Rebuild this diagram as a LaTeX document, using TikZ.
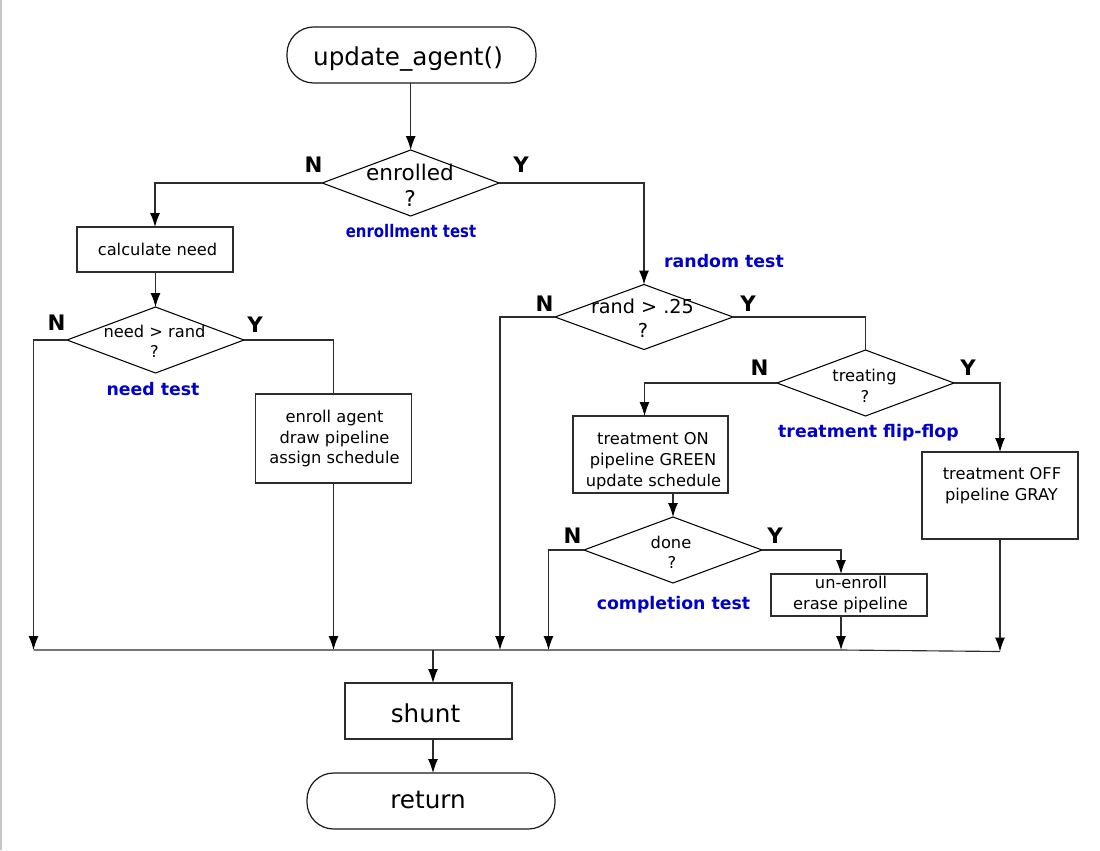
\documentclass[tikz,border=0pt]{standalone}
\usepackage{fontspec}
\usepackage{graphicx}
\setmainfont{DejaVu Sans}
\usetikzlibrary{arrows.meta,shapes.geometric,calc}
\definecolor{lblue}{RGB}{0,0,204}
\definecolor{lgray}{RGB}{45,45,45}
\newcommand{\pxu}{0.75pt}
\begin{document}
\begin{tikzpicture}[x=0.75pt,y=-0.75pt,
  conn/.style={draw=lgray, line width=0.85pt},
  arr/.style={conn, -{Latex[length=10.5pt,width=7.5pt,color=black]}},
  box/.style={draw=lgray, line width=0.9pt, rectangle, inner sep=0pt, outer sep=0pt},
  term/.style={box, draw=black!90, rounded corners=20pt},
  dia/.style={draw=black, line width=0.8pt, diamond, inner sep=0pt, outer sep=0pt},
  txt/.style={anchor=base, inner sep=0pt, font=\fontsize{12.2}{14}\selectfont},
  mid/.style={anchor=base, inner sep=0pt, font=\fontsize{14.4}{17}\selectfont},
  lrg/.style={anchor=base, inner sep=0pt, font=\fontsize{16.2}{19}\selectfont},
  big/.style={anchor=base, inner sep=0pt, font=\fontsize{18.5}{22}\selectfont},
  yn/.style={anchor=base, inner sep=0pt, font=\bfseries\fontsize{16}{19}\selectfont},
  lab/.style={anchor=base, inner sep=0pt, text=lblue, font=\bfseries\fontsize{13}{15}\selectfont}
]
\useasboundingbox (0,0) rectangle (1100,850);
\draw[gray!45, line width=1.5pt] (0.9,0) -- (0.9,850);

% ---- nodes: shapes
\node[term, minimum width=249*\pxu, minimum height=56*\pxu] (start) at (411.5,55) {};
\node[dia, minimum width=177*\pxu, minimum height=66*\pxu] (enr) at (410.7,183) {};
\node[box, minimum width=156*\pxu, minimum height=45*\pxu] (calc) at (155,249.5) {};
\node[dia, minimum width=177*\pxu, minimum height=66*\pxu] (need) at (155.5,340) {};
\node[box, minimum width=156*\pxu, minimum height=89*\pxu] (enroll) at (333.5,438.5) {};
\node[dia, minimum width=178*\pxu, minimum height=65*\pxu] (rand) at (644,317) {};
\node[dia, minimum width=177*\pxu, minimum height=66*\pxu] (treat) at (865.5,383) {};
\node[box, minimum width=155*\pxu, minimum height=77*\pxu] (on) at (650.5,454.5) {};
\node[dia, minimum width=178*\pxu, minimum height=66*\pxu] (done) at (673,550) {};
\node[box, minimum width=156*\pxu, minimum height=42*\pxu] (unenr) at (849,595) {};
\node[box, minimum width=156*\pxu, minimum height=87*\pxu] (off) at (1000,495.5) {};
\node[box, minimum width=167*\pxu, minimum height=56*\pxu] (shunt) at (428.5,711) {};
\node[term, minimum width=248*\pxu, minimum height=56*\pxu] (ret) at (431,801) {};

% ---- bus coordinates
\coordinate (b1) at (33.5,650);
\coordinate (b2) at (333.5,650);
\coordinate (b3) at (500,650);
\coordinate (b4) at (548.5,650);
\coordinate (b5) at (841,650);
\coordinate (b6) at (1000,651.5);
\coordinate (bm) at (433,650);

% ---- texts
\node[big] (tstart) at (408,65) {update\_agent()};
\node[lrg] (tenr1) at (410,180.7) {enrolled};
\node[lrg] (tenr2) at (410,206.7) {?};
\node[lab] (lenr) at (411,237) {\scalebox{0.86}[1]{enrollment test}};
\node[txt] (tcalc) at (157.5,255) {calculate need};
\node[txt] (tneed1) at (154.5,337) {need > rand};
\node[txt] (tneed2) at (154.5,357) {?};
\node[lab] (lneed) at (153,395) {need test};
\node[txt] (ten1) at (334.5,422) {enroll agent};
\node[txt] (ten2) at (334.5,443) {draw pipeline};
\node[txt] (ten3) at (334.5,463) {assign schedule};
\node[lab] (lrand) at (724,267) {random test};
\node[mid] (trand1) at (642.5,313) {rand > .25};
\node[mid] (trand2) at (643,337) {?};
\node[txt] (ttr1) at (864.5,381) {treating};
\node[txt] (ttr2) at (865,402) {?};
\node[lab] (ltr) at (868.5,437) {treatment flip-flop};
\node[txt] (ton1) at (653,444) {treatment ON};
\node[txt] (ton2) at (653,465) {pipeline GREEN};
\node[txt] (ton3) at (653.5,486) {update schedule};
\node[txt] (tdone1) at (671,548) {done};
\node[txt] (tdone2) at (672,568) {?};
\node[lab] (ldone) at (673.5,609) {completion test};
\node[txt] (tun1) at (851,588) {un-enroll};
\node[txt] (tun2) at (850.5,609) {erase pipeline};
\node[txt] (toff1) at (1002,479) {treatment OFF};
\node[txt] (toff2) at (1001.5,500) {pipeline GRAY};
\node[big] (tshunt) at (425.5,722) {shunt};
\node[big] (tret) at (428,808) {return};

% ---- N / Y labels
\node[yn] (n1) at (313.5,172) {N};
\node[yn] (y1) at (521,172) {Y};
\node[yn] (n2) at (56.5,330) {N};
\node[yn] (y2) at (255,332) {Y};
\node[yn] (n3) at (544.5,311) {N};
\node[yn] (y3) at (748,311) {Y};
\node[yn] (n4) at (759.5,375) {N};
\node[yn] (y4) at (968,375) {Y};
\node[yn] (n5) at (572.5,543) {N};
\node[yn] (y5) at (775,543) {Y};

% ---- connectors
\draw[arr] (start.south -| enr.north) -- (enr.north);
\draw[arr] (enr.west) -| (calc.north);
\draw[arr] (calc.south -| need.north) -- (need.north);
\draw[arr] (need.west) -| (b1);
\draw[conn] (need.east) -| (enroll.north);
\draw[arr] (enroll.south) -- (b2);
\draw[arr] (enr.east) -| (rand.north);
\draw[arr] (rand.west) -| (b3);
\draw[conn] (rand.east) -| (treat.north);
\draw[arr] (treat.west) -| ([xshift=-6*\pxu]on.north);
\draw[arr] (done.north |- on.south) -- (done.north);
\draw[arr] (done.west) -| (b4);
\draw[arr] (done.east) -| (b5 |- unenr.north);
\draw[arr] (b5 |- unenr.south) -- (b5);
\draw[arr] (treat.east) -| (off.north);
\draw[arr] (off.south) -- (b6);
\draw[conn] (b1) -- (b5) -- (b6);
\draw[arr] (bm) -- (bm |- shunt.north);
\draw[arr] (bm |- shunt.south) -- (bm |- ret.north);
\end{tikzpicture}
\end{document}
